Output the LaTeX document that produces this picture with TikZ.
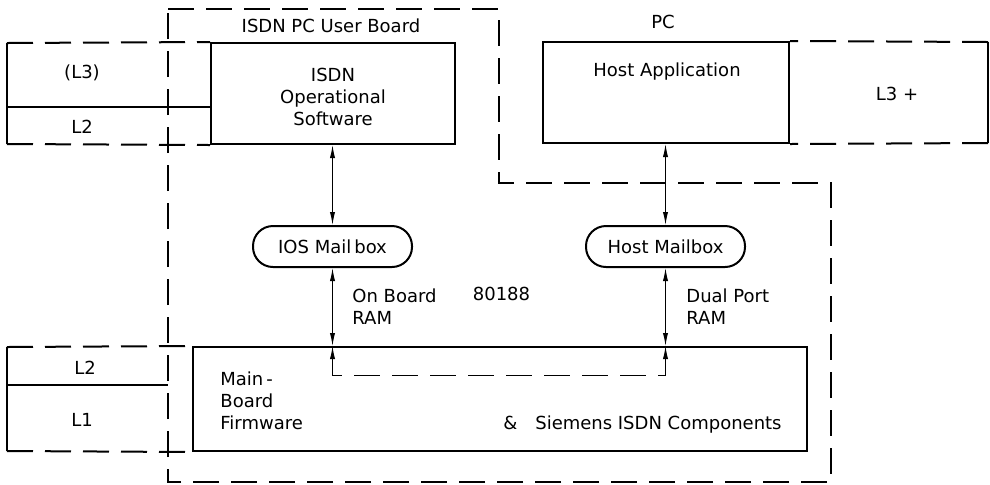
\documentclass[tikz,border=0pt]{standalone}
\usepackage{fontspec}
\setmainfont{DejaVu Sans}
\usetikzlibrary{arrows.meta,positioning,calc}
\tikzset{
  blk/.style={draw, line width=1pt, inner sep=0pt},
  mbox/.style={draw, line width=1pt, rounded corners=10pt, minimum width=79.5pt, minimum height=20.5pt, inner sep=0pt, font=\fontsize{9}{11}\selectfont},
  txt/.style={font=\fontsize{9}{11}\selectfont, inner sep=0pt, align=center},
  txtl/.style={txt, align=left},
  dsh/.style={line width=1pt, dash pattern=on 13pt off 6pt},
  sld/.style={line width=1pt},
  dbl/.style={{Latex[length=6.5pt,width=2.6pt]}-{Latex[length=6.5pt,width=2.6pt]}, line width=0.5pt},
}
\begin{document}
\begin{tikzpicture}[x=0.5pt,y=-0.5pt]
  \useasboundingbox (0,0) rectangle (990,484);
  % solid blocks
  \node[blk, minimum width=122pt, minimum height=50.5pt] (opsw) at (333,93.5) {};
  \node[blk, minimum width=123pt, minimum height=50.5pt] (host) at (666,92.5) {};
  \node[mbox] (iosmb) at (332.5,246.5) {IOS Mail\,box};
  \node[mbox] (hostmb) at (665.5,246.5) {Host Mailbox};
  \node[blk, minimum width=307pt, minimum height=52pt] (board) at (500,399) {};
  % board outline
  \draw[dsh] (168,9) -- (499,9) -- (499,183) -- (831,183) -- (831,482) -- (168,482) -- cycle;
  % layers beside the blocks
  \draw[dsh] (7,43) -- (opsw.north west);
  \draw[dsh] (7,144) -- (opsw.south west);
  \draw[sld] (7,43) -- (7,144);
  \draw[sld] (7,107) -- (opsw.west |- 0,107);
  \draw[dsh] (988,42) -- (host.north east);
  \draw[dsh] (988,143) -- (host.south east);
  \draw[sld] (988,42) -- (988,143);
  \draw[dsh] (7,347) -- (board.north west);
  \draw[dsh] (7,451) -- (board.south west);
  \draw[sld] (7,347) -- (7,451);
  \draw[sld] (7,385) -- (168,385);
  % texts
  \node[txt] at (331,26) {ISDN PC User Board};
  \node[txt] at (663,22) {PC};
  \node[txt, yshift=-1.5pt] at (opsw) {ISDN\\Operational\\Software};
  \node[txt] at (667,72) {Host Application};
  \node[txt] at (82,73) {(L3)};
  \node[txt] at (82,127) {L2};
  \node[txt] at (897,94) {L3 +};
  \node[txt] at (85,368) {L2};
  \node[txt] at (82,420) {L1};
  \node[txtl, anchor=west] (obram) at (352,306.5) {On Board\\RAM};
  \node[txt] at (501.5,294) {80188};
  \node[txtl, anchor=west] (dpram) at (686,306.5) {Dual Port\\RAM};
  \node[txtl, anchor=west] at (220,401) {Main\,-\\Board\\Firmware};
  \node[txt, anchor=base east] at (782,429) {\&\quad Siemens ISDN Components};
  % links
  \coordinate (ioslink) at (iosmb.south |- board.north);
  \coordinate (hostlink) at (hostmb.south |- board.north);
  \draw[dbl] (iosmb.north) -- (iosmb.north |- opsw.south);
  \draw[dbl] (hostmb.north) -- (hostmb.north |- host.south);
  \draw[dbl] (iosmb.south) -- (ioslink);
  \draw[dbl] (hostmb.south) -- (hostlink);
  \draw[dbl, dash pattern=on 13pt off 6pt] (ioslink) -- ++(0,29) -| (hostlink);
\end{tikzpicture}
\end{document}
